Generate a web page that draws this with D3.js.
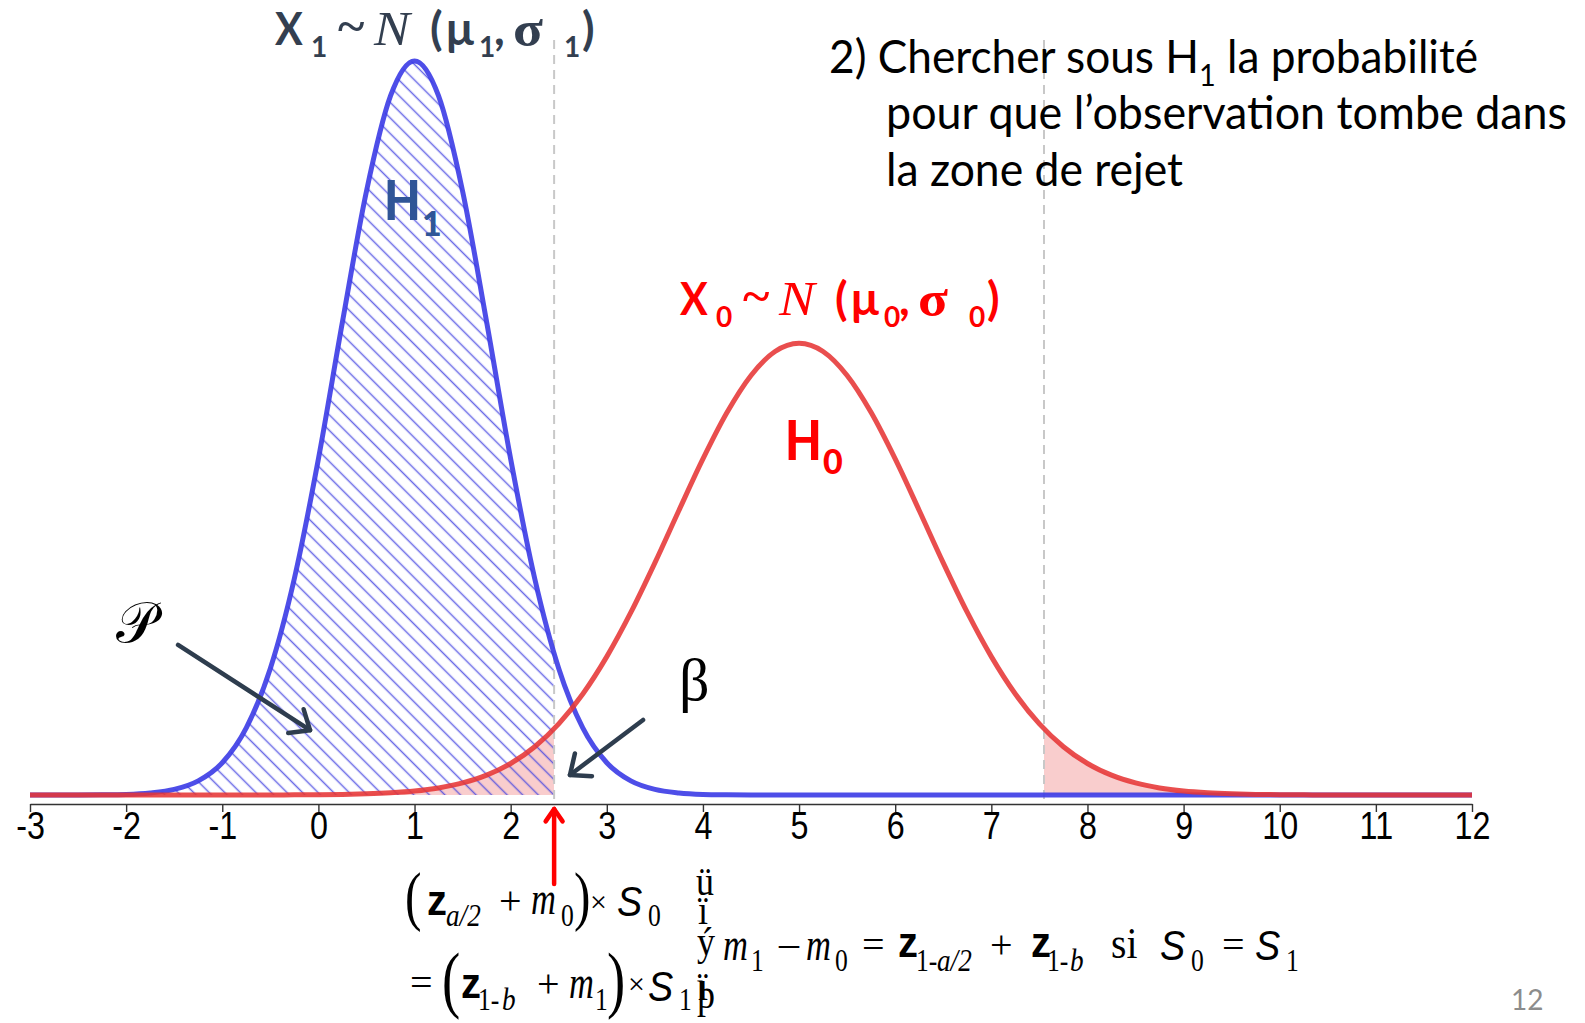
<!DOCTYPE html>
<html>
  <head>
    <style>
      body {
        margin: 0;
        background: #fff;
      }
      svg {
        display: block;
      }
    </style>
  </head>
  <body>
    <script src="https://d3js.org/d3.v7.min.js"></script>
    <script>
    // x grid of the slide (step 0.25) and the two densities
      var xs = [-3, -2.75, -2.5, -2.25, -2, -1.75, -1.5, -1.25, -1, -0.75, -0.5, -0.25,
                0, 0.25, 0.5, 0.75, 1, 1.25, 1.5, 1.75, 2, 2.25, 2.5, 2.75,
                3, 3.25, 3.5, 3.75, 4, 4.25, 4.5, 4.75, 5, 5.25, 5.5, 5.75,
                6, 6.25, 6.5, 6.75, 7, 7.25, 7.5, 7.75, 8, 8.25, 8.5, 8.75,
                9, 9.25, 9.5, 9.75, 10, 10.25, 10.5, 10.75, 11, 11.25, 11.5, 11.75, 12];
    // H1 : X1 ~ N(mu1, sigma1), blue
      var h1Density = [0, 0, 0, 0.0001, 0.0004, 0.0014, 0.0038, 0.0096, 0.0219, 0.0456, 0.0860, 0.1471,
                       0.2283, 0.3213, 0.4102, 0.4749, 0.4987, 0.4749, 0.4102, 0.3213, 0.2283, 0.1471, 0.0860, 0.0456,
                       0.0219, 0.0096, 0.0038, 0.0014, 0.0004, 0.0001, 0, 0, 0, 0, 0, 0,
                       0, 0, 0, 0, 0, 0, 0, 0, 0, 0, 0, 0,
                       0, 0, 0, 0, 0, 0, 0, 0, 0, 0, 0, 0, 0];
    // H0 : X0 ~ N(mu0, sigma0), red
      var h0Density = [0, 0, 0, 0, 0, 0, 0, 0, 0, 0, 0, 0.0001,
                       0.0002, 0.0004, 0.0008, 0.0015, 0.0027, 0.0048, 0.0082, 0.0135, 0.0214, 0.0328, 0.0483, 0.0686,
                       0.0940, 0.1240, 0.1577, 0.1933, 0.2283, 0.2598, 0.2850, 0.3013, 0.3069, 0.3013, 0.2850, 0.2598,
                       0.2283, 0.1933, 0.1577, 0.1240, 0.0940, 0.0686, 0.0483, 0.0328, 0.0214, 0.0135, 0.0082, 0.0048,
                       0.0027, 0.0015, 0.0008, 0.0004, 0.0002, 0.0001, 0, 0, 0, 0, 0, 0, 0];
      var tickValues = [-3, -2, -1, 0, 1, 2, 3, 4, 5, 6, 7, 8, 9, 10, 11, 12];
    // bounds of the rejection zone
      var critLow = 2.452, critHigh = 7.548;

      var SANS = "Lato, 'Open Sans', sans-serif",
          SERIF = "'Liberation Serif', 'DejaVu Serif', serif",
          ARIAL = "'Liberation Sans', Arial, sans-serif";

      var width = 1585, height = 1023;
      var svg = d3.select("body").append("svg")
          .attr("width", width)
          .attr("height", height);

      var x = d3.scaleLinear().domain([-3, 12]).range([30, 1472]);
      var y = d3.scaleLinear().domain([0, 0.5]).range([795, 59]);
      var axisY = 804;

      var h1 = d3.zip(xs, h1Density), h0 = d3.zip(xs, h0Density);

      var line = d3.line().x(d => x(d[0])).y(d => y(d[1])).curve(d3.curveMonotoneX);
      var area = d3.area().x(d => x(d[0])).y0(y(0)).y1(d => y(d[1])).curve(d3.curveMonotoneX);

      var defs = svg.append("defs");
      defs.append("clipPath").attr("id", "low")
        .append("rect").attr("x", x(-3)).attr("y", 0)
          .attr("width", x(critLow) - x(-3)).attr("height", height);
      defs.append("clipPath").attr("id", "high")
        .append("rect").attr("x", x(critHigh)).attr("y", 0)
          .attr("width", x(12) - x(critHigh)).attr("height", height);
      var hatch = defs.append("pattern").attr("id", "hatch")
          .attr("patternUnits", "userSpaceOnUse")
          .attr("width", 11).attr("height", 11)
          .attr("patternTransform", "rotate(-45)");
      hatch.append("line").attr("x1", 5.5).attr("y1", 0).attr("x2", 5.5).attr("y2", 11)
          .attr("stroke", "rgba(70,70,225,0.8)").attr("stroke-width", 1.5);

    //pink tails of H0
      svg.append("path").datum(h0).attr("d", area)
          .attr("clip-path", "url(#low)").attr("fill", "rgba(230,60,60,0.26)");
      svg.append("path").datum(h0).attr("d", area)
          .attr("clip-path", "url(#high)").attr("fill", "rgba(230,60,60,0.26)");
    //hatched power area under H1
      svg.append("path").datum(h1).attr("d", area)
          .attr("clip-path", "url(#low)").attr("fill", "url(#hatch)");

    //dashed critical values
      svg.selectAll(".crit").data([critLow, critHigh]).enter().append("line")
          .attr("class", "crit")
          .attr("x1", d => x(d)).attr("x2", d => x(d))
          .attr("y1", 40).attr("y2", axisY)
          .attr("stroke", "#c8c8c8").attr("stroke-width", 2)
          .attr("stroke-dasharray", "9,6");

      svg.append("path").datum(h1).attr("d", line)
          .attr("fill", "none").attr("stroke", "#3b3be6")
          .attr("stroke-opacity", 0.9).attr("stroke-width", 5);
      svg.append("path").datum(h0).attr("d", line)
          .attr("fill", "none").attr("stroke", "#e63535")
          .attr("stroke-opacity", 0.88).attr("stroke-width", 5);

    //axis
      var xAxis = svg.append("g")
          .attr("transform", "translate(0," + axisY + ")")
          .call(d3.axisBottom(x).tickValues(tickValues).tickFormat(d => String(d))
            .tickSize(8).tickSizeOuter(0).tickPadding(0));
      xAxis.select(".domain").attr("stroke", "#333").attr("stroke-width", 1.6);
      xAxis.selectAll(".tick line").attr("stroke", "#333").attr("stroke-width", 1.4);
      xAxis.selectAll(".tick text")
          .attr("font-family", ARIAL).attr("font-size", 38).attr("fill", "#000")
          .attr("transform", "scale(0.85,1)");

    //text built from positioned pieces
      function writePieces(pieces, dx, dy, color) {
        svg.append("g").selectAll("text").data(pieces).enter().append("text")
            .attr("transform", d => "translate(" + (d.x + dx) + "," + (d.y + dy) + ") scale(" + (d.sx || 1) + ",1)")
            .attr("font-family", d => d.f || SERIF)
            .attr("font-size", d => d.s)
            .attr("font-weight", d => d.w || "normal")
            .attr("font-style", d => d.i ? "italic" : "normal")
            .attr("fill", color)
            .text(d => d.t);
      }

      function lawLabel(sub) {
        return [
          {t: "X", x: 275, y: 45, s: 46, f: SANS, w: "bold", sx: 0.9},
          {t: sub, x: 311, y: 57, s: 28, f: SANS, w: "bold"},
          {t: "~", x: 338, y: 42, s: 46, w: "bold", sx: 1.1},
          {t: "N", x: 374, y: 45, s: 48, i: true, sx: 1.12},
          {t: "(", x: 430, y: 45, s: 46, f: SANS, w: "bold"},
          {t: "µ", x: 445, y: 45, s: 46, f: SANS, w: "bold"},
          {t: sub, x: 479, y: 57, s: 28, f: SANS, w: "bold"},
          {t: ",", x: 494, y: 45, s: 46, f: SANS, w: "bold"},
          {t: "σ", x: 513, y: 46, s: 50, w: "bold", sx: 1.1},
          {t: sub, x: 564, y: 57, s: 28, f: SANS, w: "bold"},
          {t: ")", x: 582, y: 45, s: 46, f: SANS, w: "bold"}
        ];
      }
      writePieces(lawLabel("1"), 0, 0, "#333f50");
      writePieces(lawLabel("0"), 405, 270, "#ff0000");

      writePieces([{t: "H", x: 384, y: 220, s: 56, f: SANS, w: "900", sx: 0.85},
                   {t: "1", x: 422, y: 236, s: 34, f: SANS, w: "900"}], 0, 0, "#2f5597");
      writePieces([{t: "H", x: 785, y: 460, s: 56, f: SANS, w: "900", sx: 0.85},
                   {t: "0", x: 823, y: 474, s: 34, f: SANS, w: "900"}], 0, 0, "#ff0000");

    //question on the right
      var q1 = svg.append("text").attr("x", 829).attr("y", 73)
          .attr("font-family", SANS).attr("font-size", 46).attr("fill", "#000")
          .attr("textLength", 649).attr("lengthAdjust", "spacingAndGlyphs");
      q1.append("tspan").text("2) Chercher sous H");
      q1.append("tspan").attr("dy", 13).attr("font-size", 30).text("1");
      q1.append("tspan").attr("dy", -13).text(" la probabilité");
      svg.append("text").attr("x", 886).attr("y", 129)
          .attr("font-family", SANS).attr("font-size", 46).attr("fill", "#000")
          .attr("textLength", 681).attr("lengthAdjust", "spacingAndGlyphs")
          .text("pour que l’observation tombe dans");
      svg.append("text").attr("x", 886).attr("y", 186)
          .attr("font-family", SANS).attr("font-size", 46).attr("fill", "#000")
          .attr("textLength", 297).attr("lengthAdjust", "spacingAndGlyphs")
          .text("la zone de rejet");

    //arrows, in data units
      function arrow(x0, y0, x1, y1, color, w, head, spread) {
        var px0 = x(x0), py0 = y(y0), px1 = x(x1), py1 = y(y1);
        var a = Math.atan2(py1 - py0, px1 - px0);
        var l = [px1 - head * Math.cos(a - spread), py1 - head * Math.sin(a - spread)];
        var r = [px1 - head * Math.cos(a + spread), py1 - head * Math.sin(a + spread)];
        var g = svg.append("g").attr("stroke", color).attr("stroke-width", w)
            .attr("fill", "none").attr("stroke-linecap", "round").attr("stroke-linejoin", "round");
        g.append("line").attr("x1", px0).attr("y1", py0).attr("x2", px1).attr("y2", py1);
        g.append("path").attr("d", "M" + l + "L" + [px1, py1] + "L" + r);
      }
      arrow(-1.46, 0.102, -0.087, 0.044, "#2e3d4e", 4.5, 22, 0.7);
      arrow(3.377, 0.051, 2.617, 0.0136, "#2e3d4e", 4.5, 22, 0.7);
      arrow(critLow, -0.0605, critLow, -0.0095, "#ff0000", 4.5, 15, 0.6);

      svg.append("text").attr("x", 116).attr("y", 642)
          .attr("font-family", "'DejaVu Serif', 'DejaVu Sans', serif").attr("font-size", 56)
          .attr("fill", "#000").text("𝒫");
      svg.append("text").attr("x", 679).attr("y", 700)
          .attr("font-family", SERIF).attr("font-size", 60)
          .attr("fill", "#000").text("β");

    //sample size formula under the axis
      var formula = [
        {t: "(", x: 405, y: 918, s: 66, sx: 0.75},
        {t: "z", x: 427, y: 915, s: 42, f: ARIAL, w: "bold", sx: 0.95},
        {t: "a/2", x: 446, y: 926, s: 32, i: true, sx: 0.85},
        {t: "+", x: 499, y: 914, s: 40},
        {t: "m", x: 531, y: 914, s: 46, i: true, sx: 0.75},
        {t: "0", x: 561, y: 926, s: 32, sx: 0.8},
        {t: ")", x: 574, y: 918, s: 66, sx: 0.75},
        {t: "×", x: 590, y: 912, s: 30},
        {t: "S", x: 617, y: 916, s: 42, f: ARIAL, i: true, sx: 0.9},
        {t: "0", x: 648, y: 926, s: 32, sx: 0.8},
        {t: "ü", x: 696, y: 895, s: 40, sx: 0.9},
        {t: "ï", x: 698, y: 924, s: 40, sx: 0.9},
        {t: "ý", x: 697, y: 955, s: 40, sx: 0.9},
        {t: "ï", x: 698, y: 1000, s: 40, sx: 0.9},
        {t: "þ", x: 697, y: 1008, s: 40, sx: 0.9},
        {t: "m", x: 723, y: 960, s: 46, i: true, sx: 0.75},
        {t: "1", x: 751, y: 971, s: 32, sx: 0.8},
        {t: "–", x: 779, y: 956, s: 40},
        {t: "m", x: 806, y: 960, s: 46, i: true, sx: 0.75},
        {t: "0", x: 835, y: 971, s: 32, sx: 0.8},
        {t: "=", x: 862, y: 958, s: 40},
        {t: "z", x: 898, y: 957, s: 42, f: ARIAL, w: "bold", sx: 0.95},
        {t: "1-", x: 916, y: 971, s: 32, sx: 0.8},
        {t: "a/2", x: 937, y: 971, s: 32, i: true, sx: 0.85},
        {t: "+", x: 990, y: 958, s: 40},
        {t: "z", x: 1031, y: 957, s: 42, f: ARIAL, w: "bold", sx: 0.95},
        {t: "1-", x: 1047, y: 971, s: 32, sx: 0.8},
        {t: "b", x: 1070, y: 971, s: 32, i: true, sx: 0.85},
        {t: "si", x: 1111, y: 958, s: 44, sx: 0.9},
        {t: "S", x: 1160, y: 960, s: 42, f: ARIAL, i: true, sx: 0.9},
        {t: "0", x: 1191, y: 971, s: 32, sx: 0.8},
        {t: "=", x: 1222, y: 958, s: 40},
        {t: "S", x: 1255, y: 960, s: 42, f: ARIAL, i: true, sx: 0.9},
        {t: "1", x: 1286, y: 971, s: 32, sx: 0.8},
        {t: "=", x: 410, y: 996, s: 40},
        {t: "(", x: 442, y: 1004, s: 73, sx: 0.75},
        {t: "z", x: 461, y: 998, s: 42, f: ARIAL, w: "bold", sx: 0.95},
        {t: "1-", x: 478, y: 1010, s: 32, sx: 0.8},
        {t: "b", x: 502, y: 1010, s: 32, i: true, sx: 0.85},
        {t: "+", x: 537, y: 997, s: 40},
        {t: "m", x: 569, y: 998, s: 46, i: true, sx: 0.75},
        {t: "1", x: 595, y: 1010, s: 32, sx: 0.8},
        {t: ")", x: 607, y: 1004, s: 73, sx: 0.75},
        {t: "×", x: 628, y: 994, s: 30},
        {t: "S", x: 648, y: 1001, s: 42, f: ARIAL, i: true, sx: 0.9},
        {t: "1", x: 679, y: 1010, s: 32, sx: 0.8}
      ];
      writePieces(formula, 0, 0, "#000");

      svg.append("text").attr("x", 1511).attr("y", 1010)
          .attr("font-family", SANS).attr("font-size", 28).attr("fill", "#8c8c8c")
          .text("12");
    </script>
  </body>
</html>
